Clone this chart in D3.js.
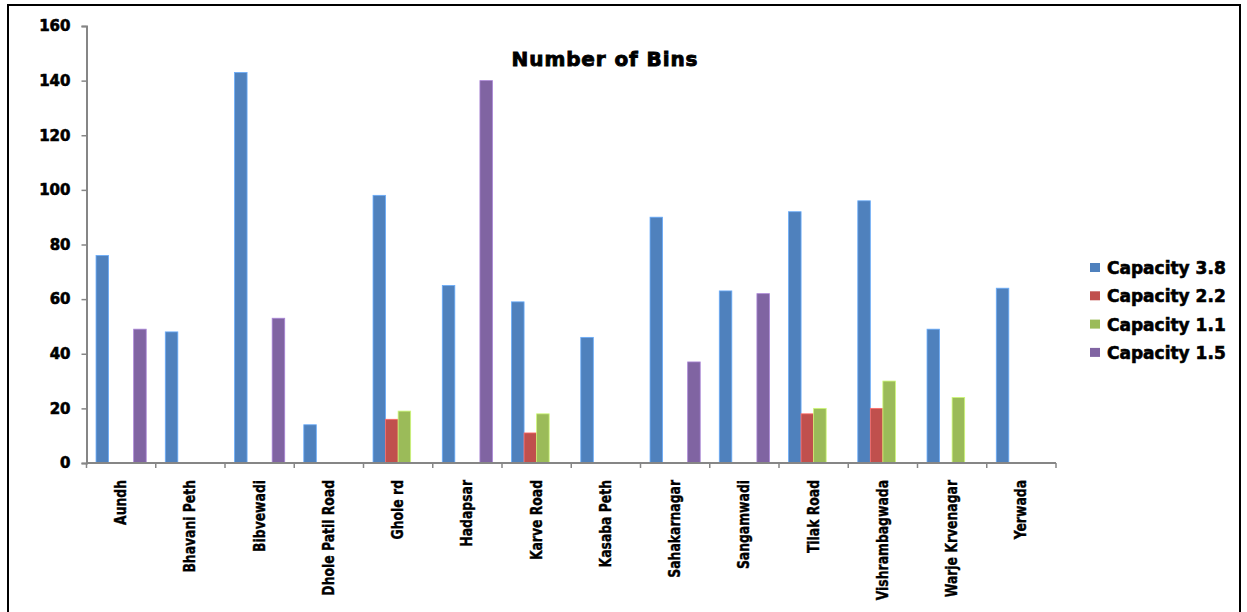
<!DOCTYPE html>
<html>
<head>
<meta charset="utf-8">
<script src="https://cdn.jsdelivr.net/npm/d3@7/dist/d3.min.js"></script>
<style>
  html, body { margin: 0; padding: 0; background: #fff; }
  svg { display: block; }
</style>
</head>
<body>
<script>
const categories = ["Aundh", "Bhavani Peth", "Bibvewadi", "Dhole Patil Road", "Ghole rd", "Hadapsar",
  "Karve Road", "Kasaba Peth", "Sahakarnagar", "Sangamwadi", "Tilak Road", "Vishrambagwada",
  "Warje Krvenagar", "Yerwada"];
const seriesNames = ["Capacity 3.8", "Capacity 2.2", "Capacity 1.1", "Capacity 1.5"];
const capacity38 = [76, 48, 143, 14, 98, 65, 59, 46, 90, 63, 92, 96, 49, 64];
const capacity22 = [0, 0, 0, 0, 16, 0, 11, 0, 0, 0, 18, 20, 0, 0];
const capacity11 = [0, 0, 0, 0, 19, 0, 18, 0, 0, 0, 20, 30, 24, 0];
const capacity15 = [49, 0, 53, 0, 0, 140, 0, 0, 37, 62, 0, 0, 0, 0];
const yTicks = [0, 20, 40, 60, 80, 100, 120, 140, 160];
const colors = ["#4F81BD", "#C0504D", "#9BBB59", "#8064A2"];
const title = "Number of Bins";

const seriesValues = [capacity38, capacity22, capacity11, capacity15];

const W = 1247, H = 612;
const svg = d3.select("body").append("svg").attr("width", W).attr("height", H);

// outer border
svg.append("rect").attr("x", 8).attr("y", 5).attr("width", 1232).attr("height", 640)
  .attr("fill", "none").attr("stroke", "#000").attr("stroke-width", 2);

const plotLeft = 86.5, plotRight = 1056, plotTop = 26, plotBottom = 463;

const x = d3.scaleBand().domain(categories).range([plotLeft, plotRight]).padding(0);
const xs = d3.scaleBand().domain(seriesNames).range([0, x.bandwidth()]).paddingInner(0).paddingOuter(0.76);
const y = d3.scaleLinear().domain([0, 160]).range([plotBottom, plotTop]);

// bars
const g = svg.append("g");
seriesNames.forEach((s, si) => {
  g.selectAll(null)
    .data(categories.map((c, i) => ({ c, v: seriesValues[si][i] })).filter(d => d.v > 0))
    .enter().append("rect")
    .attr("x", d => x(d.c) + xs(s))
    .attr("y", d => y(d.v))
    .attr("width", xs.bandwidth())
    .attr("height", d => y(0) - y(d.v))
    .attr("fill", colors[si])
    .attr("stroke", d3.color(colors[si]).brighter(0.8))
    .attr("stroke-width", 0.8);
});

// y axis
const yAxis = d3.axisLeft(y).tickValues(yTicks).tickSize(5).tickPadding(11).tickFormat(d3.format("d"));
const ya = svg.append("g").attr("transform", `translate(${plotLeft},0)`).call(yAxis);
ya.select(".domain").attr("stroke", "#868686").attr("stroke-width", 2);
ya.selectAll(".tick line").attr("stroke", "#868686").attr("stroke-width", 1.5);
ya.selectAll(".tick text")
  .attr("font-family", "'DejaVu Sans', sans-serif")
  .attr("font-weight", "bold")
  .attr("font-size", "15px")
  .attr("fill", "#000")
  .attr("stroke", "#000").attr("stroke-width", 0.6);

// x axis
const xa = svg.append("g").attr("transform", `translate(0,${plotBottom})`);
xa.append("line").attr("x1", plotLeft).attr("x2", plotRight).attr("y1", 0).attr("y2", 0)
  .attr("stroke", "#868686").attr("stroke-width", 2);
const boundaries = categories.map(c => x(c)).concat([plotRight]);
xa.selectAll("line.tk").data(boundaries).enter().append("line").attr("class", "tk")
  .attr("x1", d => d).attr("x2", d => d).attr("y1", 0).attr("y2", 5)
  .attr("stroke", "#868686").attr("stroke-width", 1.5);
xa.selectAll("text.lbl").data(categories).enter().append("text").attr("class", "lbl")
  .attr("transform", d => `translate(${x(d) + x.bandwidth() / 2 + 5},${17}) rotate(-90) scale(0.8,1)`)
  .attr("text-anchor", "end")
  .attr("font-family", "'DejaVu Sans', sans-serif")
  .attr("font-weight", "bold")
  .attr("font-size", "15.5px")
  .attr("fill", "#000")
  .attr("stroke", "#000").attr("stroke-width", 0.4)
  .text(d => d);

// title
svg.append("text").attr("x", 605).attr("y", 66).attr("text-anchor", "middle")
  .attr("font-family", "'DejaVu Sans', sans-serif").attr("font-weight", "bold")
  .attr("font-size", "20px").attr("letter-spacing", "0.9px").attr("fill", "#000")
  .attr("stroke", "#000").attr("stroke-width", 0.9).text(title);

// legend
const lg = svg.append("g").attr("transform", "translate(1090,268)");
seriesNames.forEach((s, i) => {
  const row = lg.append("g").attr("transform", `translate(0,${i * 28.3})`);
  row.append("rect").attr("x", 0).attr("y", -5).attr("width", 10).attr("height", 9).attr("fill", colors[i]);
  row.append("text").attr("x", 17).attr("y", 6)
    .attr("font-family", "'DejaVu Sans', sans-serif").attr("font-weight", "bold")
    .attr("font-size", "17px").attr("fill", "#000")
    .attr("stroke", "#000").attr("stroke-width", 0.6).text(s);
});
</script>
</body>
</html>
